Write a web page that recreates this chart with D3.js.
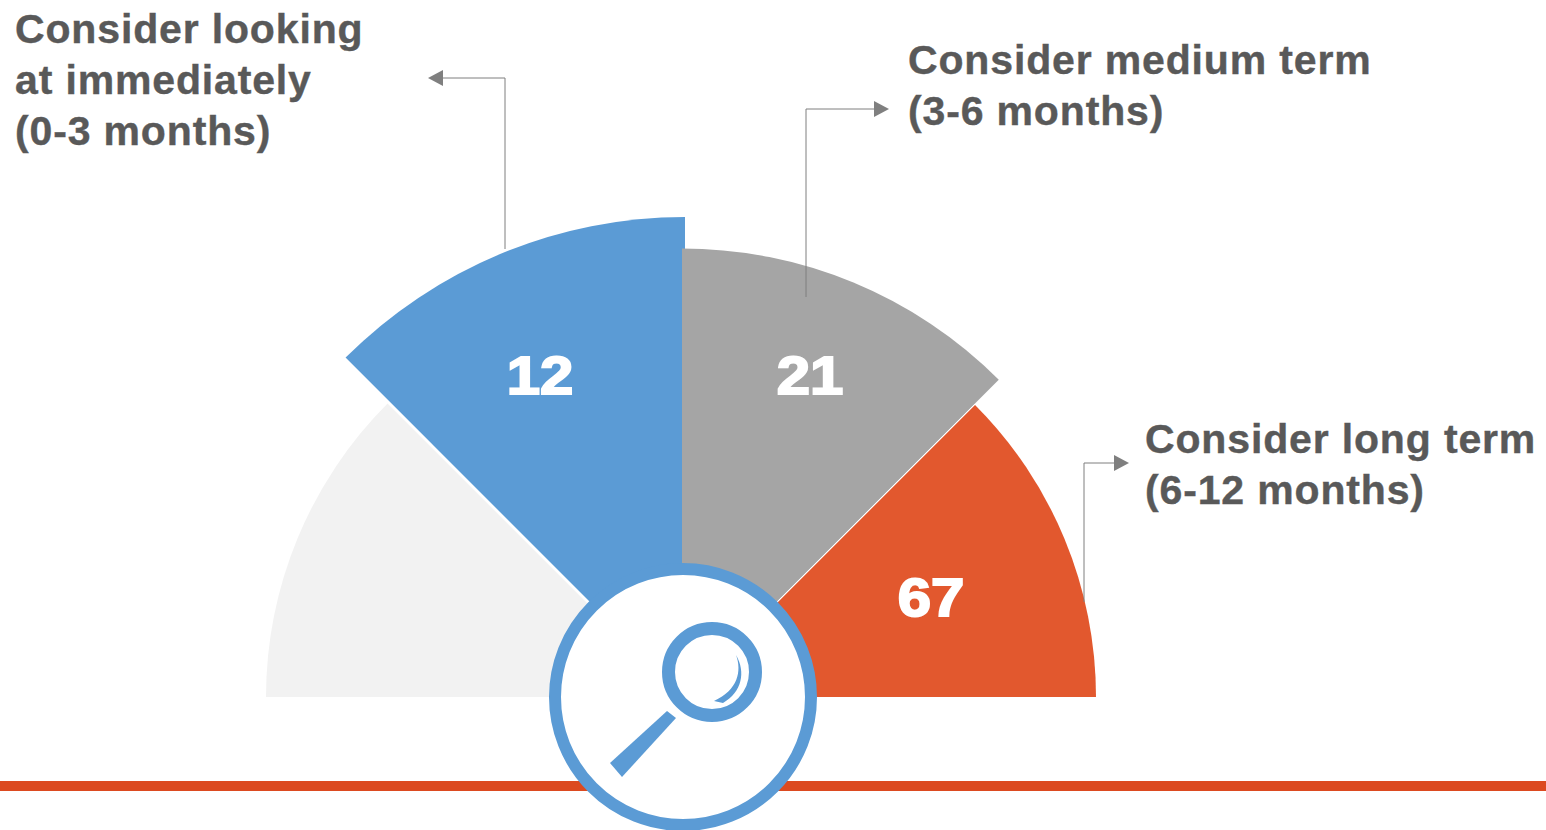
<!DOCTYPE html>
<html>
<head>
<meta charset="utf-8">
<script src="https://cdn.jsdelivr.net/npm/d3@7"></script>
<style>
  html, body { margin: 0; padding: 0; background: #fff; overflow: hidden; }
  svg { display: block; }
  text { font-family: "Liberation Sans", Arial, sans-serif; font-weight: bold; }
</style>
</head>
<body>
<div id="chart"></div>
<script>
// Chart data
const categories = ["Not flagged", "Immediately", "Medium term", "Long term"];
const values = [null, 12, 21, 67];
const calloutLines = [
  [],
  ["Consider looking", "at immediately", "(0-3 months)"],
  ["Consider medium term", "(3-6 months)"],
  ["Consider long term", "(6-12 months)"],
];

// Layout, one entry per category
const colors = ["#f2f2f2", "#5b9bd5", "#a5a5a5", "#e2582e"];
const sectorCenters = [[681, 697], [685, 697], [682, 696.5], [683, 697]];
const outerRadii = [415, 480, 448, 413];
const valuePos = [null, [540, 394], [810, 394], [931, 616]];
const calloutX = [null, 15, 908, 1145];
const calloutY = [null, 43, 74, 453];
const leaderPoints = [
  null,
  [[505, 249], [505, 78], [443, 78]],
  [[806, 297], [806, 109], [874, 109]],
  [[1084, 602], [1084, 463], [1114, 463]],
];

const width = 1546;
const height = 830;

const svg = d3
  .select("#chart")
  .append("svg")
  .attr("width", width)
  .attr("height", height);

svg
  .append("defs")
  .append("marker")
  .attr("id", "arrow")
  .attr("markerUnits", "userSpaceOnUse")
  .attr("viewBox", "0 0 15 16")
  .attr("markerWidth", 15)
  .attr("markerHeight", 16)
  .attr("refX", 0)
  .attr("refY", 8)
  .attr("orient", "auto")
  .append("path")
  .attr("d", "M0,0L15,8L0,16Z")
  .attr("fill", "#7f7f7f");

// Baseline under the gauge
svg
  .append("rect")
  .attr("x", 0)
  .attr("y", 781)
  .attr("width", width)
  .attr("height", 10)
  .attr("fill", "#dc4a20");

// Four equal sectors over the half circle
const angle = d3
  .scaleBand()
  .domain(categories)
  .range([-Math.PI / 2, Math.PI / 2]);

const arc = d3.arc().innerRadius(0);

// Draw order matters: grey sits on top of blue and orange
[0, 3, 1, 2].forEach((i) => {
  svg
    .append("path")
    .attr("transform", `translate(${sectorCenters[i]})`)
    .attr(
      "d",
      arc({
        outerRadius: outerRadii[i],
        startAngle: angle(categories[i]),
        endAngle: angle(categories[i]) + angle.bandwidth(),
      }),
    )
    .attr("fill", colors[i]);
});

// White hairline between grey and orange
svg
  .append("line")
  .attr("x1", 778)
  .attr("y1", 601)
  .attr("x2", 975)
  .attr("y2", 404)
  .attr("stroke", "#fff")
  .attr("stroke-width", 1);

// Leader lines with arrow heads
const leader = d3.line();
leaderPoints.forEach((points) => {
  if (!points) return;
  svg
    .append("path")
    .attr("d", leader(points))
    .attr("fill", "none")
    .attr("stroke", "#7f7f7f")
    .attr("stroke-width", 1)
    .attr("marker-end", "url(#arrow)");
});

// Value labels, the digits in the picture are wider than plain bold
values.forEach((v, i) => {
  if (v === null) return;
  svg
    .append("text")
    .attr("transform", `translate(${valuePos[i]}) scale(1.13,1)`)
    .attr("text-anchor", "middle")
    .attr("font-size", 53)
    .attr("fill", "#fff")
    .attr("stroke", "#fff")
    .attr("stroke-width", 2)
    .text(v);
});

// Callout text
calloutLines.forEach((lines, i) => {
  lines.forEach((line, j) => {
    svg
      .append("text")
      .attr("x", calloutX[i])
      .attr("y", calloutY[i] + j * 51)
      .attr("font-size", 41)
      .attr("letter-spacing", 0.85)
      .attr("fill", "#595959")
      .attr("stroke", "#595959")
      .attr("stroke-width", 0.4)
      .text(line);
  });
});

// Magnifier badge
const badge = svg.append("g").attr("transform", "translate(683,697)");

badge
  .append("circle")
  .attr("r", 128)
  .attr("fill", "#fff")
  .attr("stroke", "#5b9bd5")
  .attr("stroke-width", 12);

badge
  .append("circle")
  .attr("cx", 29)
  .attr("cy", -25)
  .attr("r", 43.5)
  .attr("fill", "none")
  .attr("stroke", "#5b9bd5")
  .attr("stroke-width", 13);

badge
  .append("path")
  .attr("d", "M-16,14L-7,21L-61,80L-73,66Z")
  .attr("fill", "#5b9bd5");

badge
  .append("path")
  .attr("d", "M53,-42C59,-26 55,-7 31,4L40,6C59,-5 63,-25 53,-42Z")
  .attr("fill", "#5b9bd5");
</script>
</body>
</html>
